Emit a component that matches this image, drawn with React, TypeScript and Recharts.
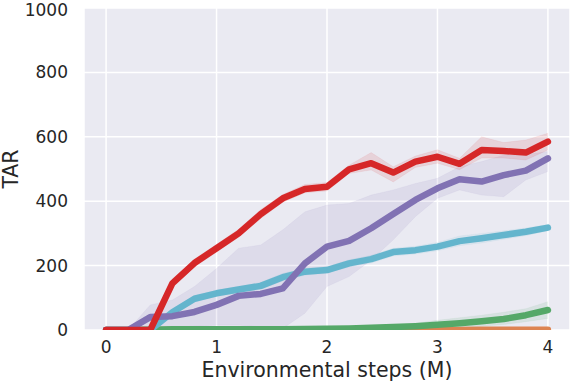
import React from 'react';
import { ComposedChart, Line, Area, XAxis, YAxis, CartesianGrid, Label } from 'recharts';

const steps = [0, 0.2, 0.4, 0.6, 0.8, 1.0, 1.2, 1.4, 1.6, 1.8, 2.0, 2.2, 2.4, 2.6, 2.8, 3.0, 3.2, 3.4, 3.6, 3.8, 4.0];

const red = [0, 0, 0, 145, 208, 254, 300, 360, 409, 438, 445, 499, 518, 489, 523, 538, 516, 559, 556, 551, 585];
const redHi = [2, 2, 2, 158, 220, 266, 313, 374, 421, 452, 458, 512, 551, 507, 540, 560, 533, 600, 582, 590, 611];
const redLo = [0, 0, 0, 132, 196, 242, 288, 346, 397, 426, 432, 486, 497, 460, 505, 518, 498, 534, 534, 528, 559];

const purple = [0, 0, 40, 43, 56, 78, 106, 112, 129, 207, 259, 277, 316, 360, 404, 440, 468, 461, 481, 495, 533];
const purpleHi = [0, 0, 78, 93, 135, 191, 254, 264, 311, 367, 388, 393, 419, 435, 455, 471, 507, 523, 543, 545, 554];
const purpleLo = [0, 0, 5, 8, 12, 15, 15, 10, 5, 52, 135, 166, 217, 280, 352, 409, 435, 419, 414, 466, 492];

const blue = [0, 0, 0, 55, 97, 114, 126, 137, 164, 181, 186, 207, 220, 242, 248, 259, 276, 285, 295, 305, 318];
const blueHi = [0, 0, 4, 65, 107, 124, 136, 148, 176, 192, 197, 218, 232, 254, 260, 272, 292, 300, 308, 317, 328];
const blueLo = [0, 0, 0, 45, 87, 104, 116, 126, 152, 170, 176, 196, 208, 230, 236, 246, 262, 270, 282, 293, 308];

const green = [0, 0, 1, 2, 2, 2, 2, 2, 2, 3, 4, 5, 7, 9, 12, 16, 21, 27, 34, 46, 62];
const greenHi = [0, 0, 4, 4, 4, 4, 4, 4, 4, 5, 7, 9, 12, 16, 21, 30, 38, 46, 55, 66, 88];
const greenLo = [0, 0, 0, 0, 0, 0, 0, 0, 0, 1, 2, 2, 3, 4, 5, 6, 8, 12, 17, 26, 36];

const orange = [0, 0, 0, 0, 0, 0, 0, 0, 0, 0, 0, 0, 0, 0, 0, 0, 0, 1, 1, 1, 1];
const orangeHi = [0, 0, 0, 0, 0, 0, 0, 0, 0, 0, 0, 0, 0, 0, 0, 0, 1, 2, 2, 3, 3];
const orangeLo = [0, 0, 0, 0, 0, 0, 0, 0, 0, 0, 0, 0, 0, 0, 0, 0, 0, 0, 0, 0, 0];

const xTicks = [0, 1, 2, 3, 4];
const yTicks = [0, 200, 400, 600, 800, 1000];

const table = steps.map((x, i) => ({
  x,
  red: red[i],
  redBand: [redLo[i], redHi[i]],
  purple: purple[i],
  purpleBand: [purpleLo[i], purpleHi[i]],
  blue: blue[i],
  blueBand: [blueLo[i], blueHi[i]],
  green: green[i],
  greenBand: [greenLo[i], greenHi[i]],
  orange: orange[i],
  orangeBand: [orangeLo[i], orangeHi[i]],
}));

const FONT = "'DejaVu Sans', sans-serif";
const TXT = '#262626';

const C = {
  red: '#d62728',
  purple: '#8172b3',
  blue: '#64b5cd',
  green: '#55a868',
  orange: '#dd8452',
};

const YLabel = (props: any) => {
  const vb = props.viewBox || { x: 0, y: 8, width: 84, height: 322 };
  const cx = vb.x + 10.5;
  const cy = vb.y + vb.height / 2;
  return (
    <text x={cx} y={cy} transform={`rotate(-90 ${cx} ${cy})`} textAnchor="middle" dominantBaseline="central" fill={TXT} fontSize={20.5} fontFamily={FONT}>
      TAR
    </text>
  );
};

const XLabel = (props: any) => {
  const vb = props.viewBox || { x: 84, y: 330, width: 486, height: 57 };
  const cx = vb.x + vb.width / 2;
  const cy = vb.y + 40;
  return (
    <text x={cx} y={cy} textAnchor="middle" dominantBaseline="central" fill={TXT} fontSize={20.5} fontFamily={FONT}>
      Environmental steps (M)
    </text>
  );
};

const bands = [
  { key: 'orangeBand', color: C.orange },
  { key: 'greenBand', color: C.green },
  { key: 'blueBand', color: C.blue },
  { key: 'purpleBand', color: C.purple },
  { key: 'redBand', color: C.red },
];

const lines = [
  { key: 'orange', color: C.orange },
  { key: 'green', color: C.green },
  { key: 'blue', color: C.blue },
  { key: 'purple', color: C.purple },
  { key: 'red', color: C.red },
];

export default function App() {
  return (
    <div style={{ position: 'absolute', left: 0, top: 0 }}>
      <ComposedChart width={571} height={387} data={table} margin={{ top: 8, right: 1, bottom: 0, left: 0 }}>
        <CartesianGrid stroke="#ffffff" strokeWidth={1.5} fill="#eaeaf2" />
        <XAxis
          type="number"
          dataKey="x"
          domain={[-0.2, 4.2]}
          ticks={xTicks}
          allowDataOverflow
          axisLine={false}
          tickLine={false}
          tickSize={6}
          tickMargin={5}
          height={57}
          tick={{ fill: TXT, fontSize: 17, fontFamily: FONT }}
        >
          <Label content={<XLabel />} />
        </XAxis>
        <YAxis
          type="number"
          domain={[0, 1000]}
          ticks={yTicks}
          allowDataOverflow
          axisLine={false}
          tickLine={false}
          tickSize={6}
          tickMargin={10}
          width={84}
          tick={{ fill: TXT, fontSize: 17, fontFamily: FONT }}
        >
          <Label content={<YLabel />} />
        </YAxis>
        {bands.map((b) => (
          <Area
            key={b.key}
            type="linear"
            dataKey={b.key}
            fill={b.color}
            fillOpacity={0.12}
            stroke={b.color}
            strokeOpacity={0.06}
            strokeWidth={1}
            isAnimationActive={false}
            activeDot={false}
            dot={false}
          />
        ))}
        {lines.map((l) => (
          <Line
            key={l.key}
            type="linear"
            dataKey={l.key}
            stroke={l.color}
            strokeWidth={6.5}
            strokeLinejoin="round"
            strokeLinecap="round"
            dot={false}
            activeDot={false}
            isAnimationActive={false}
          />
        ))}
      </ComposedChart>
    </div>
  );
}
